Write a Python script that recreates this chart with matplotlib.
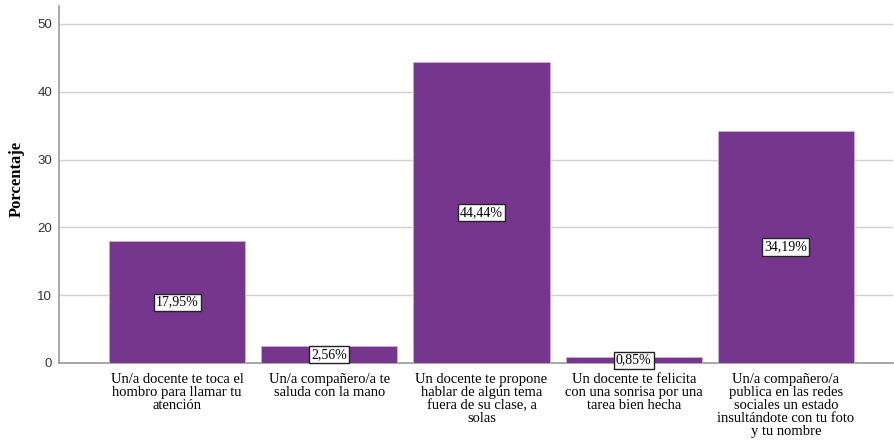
import numpy as np
import matplotlib.pyplot as plt

categorias = [
    "Un/a docente te toca el\nhombro para llamar tu\natención",
    "Un/a compañero/a te\nsaluda con la mano",
    "Un docente te propone\nhablar de algún tema\nfuera de su clase, a\nsolas",
    "Un docente te felicita\ncon una sonrisa por una\ntarea bien hecha",
    "Un/a compañero/a\npublica en las redes\nsociales un estado\ninsultándote con tu foto\ny tu nombre",
]
porcentajes = [17.95, 2.56, 44.44, 0.85, 34.19]
etiquetas = ["17,95%", "2,56%", "44,44%", "0,85%", "34,19%"]

fig = plt.figure(figsize=(8.94, 4.43), dpi=100)
ax = fig.add_axes([0.066, 0.1806, 0.933, 0.806])

x = np.arange(len(categorias))
bars = ax.bar(x, porcentajes, width=0.895, color="#77368e", edgecolor="#c9b1d4", linewidth=0.6, zorder=3)

for xi, v, lab in zip(x, porcentajes, etiquetas):
    ax.text(xi, v / 2, lab, ha="center", va="center", fontsize=10,
            family="Liberation Serif", zorder=5,
            bbox=dict(boxstyle="square,pad=0.15", fc="white", ec="#222222", lw=1))

ax.set_xlim(-0.776, 4.704)
ax.set_ylim(0, 52.65)
ax.set_yticks([0, 10, 20, 30, 40, 50])
ax.yaxis.grid(True, color="#d0d0d0", lw=1, zorder=0)
ax.set_xticks(x)
ax.set_xticklabels(categorias, family="Liberation Serif", fontsize=10.5, linespacing=1.0)
ax.tick_params(axis="x", length=0, pad=7)
ax.tick_params(axis="y", length=0, pad=5, labelsize=9.5)
for lab in ax.get_yticklabels():
    lab.set_family("Liberation Sans")
    lab.set_color("#333333")

ax.set_ylabel("Porcentaje", family="Liberation Serif", fontweight="bold", fontsize=12)
ax.yaxis.set_label_coords(-0.041, 0.515)

for s in ["top", "right"]:
    ax.spines[s].set_visible(False)
ax.spines["left"].set_color("#999999")
ax.spines["bottom"].set_color("#999999")
ax.spines["left"].set_linewidth(1.2)
ax.spines["bottom"].set_linewidth(1.2)

fig.savefig("out.png", dpi=100)
